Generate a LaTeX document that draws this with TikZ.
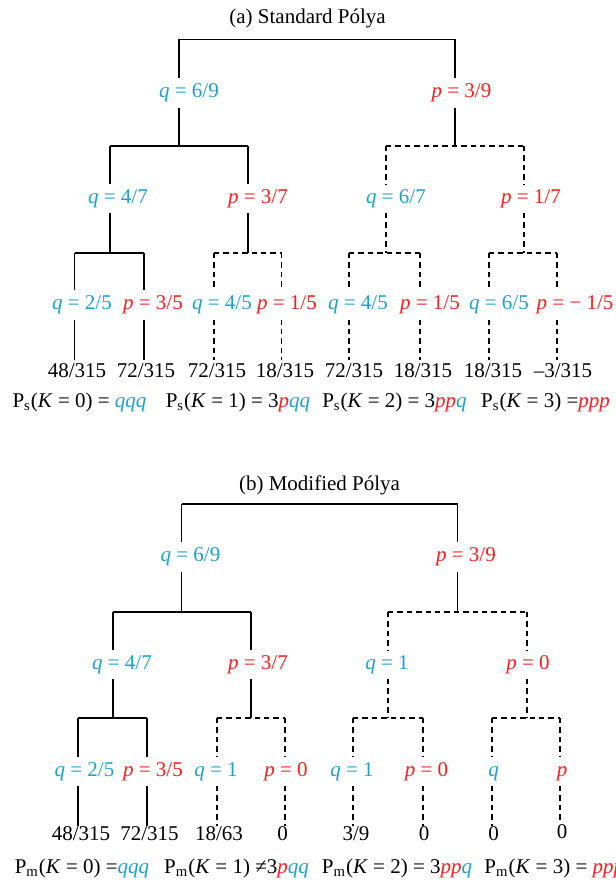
\documentclass[tikz,border=0pt]{standalone}
\usepackage{fontspec}
\setmainfont{Liberation Serif}
\definecolor{qblue}{RGB}{28,160,204}
\definecolor{pred}{RGB}{255,28,28}
\tikzset{
  branch/.style={line width=0.65pt},
  maybe/.style={line width=0.65pt,dash pattern=on 2.7pt off 2pt},
  lab/.style={inner xsep=0pt,inner ysep=2.3pt,text height=7.25pt,text depth=2.3pt},
  qlab/.style={lab,text=qblue},
  plab/.style={lab,text=pred},
  leafa/.style={inner xsep=0pt,inner ysep=1.2pt,text height=7.1pt,text depth=0pt},
  leafb/.style={leafa,inner ysep=0pt},
  total/.style={inner sep=0pt},
  heading/.style={inner sep=0pt},
}
\newcommand{\qc}[1]{\textcolor{qblue}{\textit{#1}}}
\newcommand{\pc}[1]{\textcolor{pred}{\textit{#1}}}
\begin{document}
\begin{tikzpicture}[x=0.5pt,y=-0.5pt,font=\fontsize{10.5pt}{12.6pt}\selectfont]
\useasboundingbox (0,0) rectangle (615,882);

% ---------------- (a) standard urn ----------------
\node[heading] (a-title) at (307.5,18) {(a) Standard Pólya};

% first draw
\coordinate (a-r1) at (179,39.5);
\coordinate (a-r2) at (455,39.5);
\draw[branch] (a-r1) -- (a-r2);
\node[qlab] (a-q) at (189,93) {\textit{q} = 6/9};
\node[plab] (a-p) at (461.5,93) {\textit{p} = 3/9};
\draw[branch] (a-r1) -- (a-r1 |- a-q.north);
\draw[branch] (a-r2) -- (a-r2 |- a-p.north);

% second draw
\coordinate (a-q1) at (110,146); \coordinate (a-q2) at (248,146);
\coordinate (a-p1) at (386,146); \coordinate (a-p2) at (524,146);
\draw[branch] (a-r1 |- a-q.south) -- (a-r1 |- a-q1);
\draw[branch] (a-r2 |- a-p.south) -- (a-r2 |- a-p1);
\draw[branch] (a-q1) -- (a-q2);
\draw[maybe] (a-p1) -- (a-p2);
\node[qlab] (a-qq) at (118,198.5) {\textit{q} = 4/7};
\node[plab] (a-qp) at (258,198.5) {\textit{p} = 3/7};
\node[qlab] (a-pq) at (396,198.5) {\textit{q} = 6/7};
\node[plab] (a-pp) at (531,198.5) {\textit{p} = 1/7};
\draw[branch] (a-q1) -- (a-q1 |- a-qq.north);
\draw[branch] (a-q2) -- (a-q2 |- a-qp.north);
\draw[maybe] (a-p1) -- (a-p1 |- a-pq.north);
\draw[maybe] (a-p2) -- (a-p2 |- a-pp.north);

% third draw
\coordinate (a-qq1) at (74.5,253); \coordinate (a-qq2) at (144,253);
\coordinate (a-qp1) at (214,253);  \coordinate (a-qp2) at (281.5,253);
\coordinate (a-pq1) at (349,253);  \coordinate (a-pq2) at (420,253);
\coordinate (a-pp1) at (489,253);  \coordinate (a-pp2) at (557,253);
\draw[branch] (a-q1 |- a-qq.south) -- (a-q1 |- a-qq1);
\draw[branch] (a-q2 |- a-qp.south) -- (a-q2 |- a-qp1);
\draw[maybe] (a-p1 |- a-pq.south) -- (a-p1 |- a-pq1);
\draw[maybe] (a-p2 |- a-pp.south) -- (a-p2 |- a-pp1);
\draw[branch] (a-qq1) -- (a-qq2);
\draw[maybe] (a-qp1) -- (a-qp2);
\draw[maybe] (a-pq1) -- (a-pq2);
\draw[maybe] (a-pp1) -- (a-pp2);
\node[qlab] (a-qqq) at (82,305)  {\textit{q} = 2/5};
\node[plab] (a-qqp) at (153,305) {\textit{p} = 3/5};
\node[qlab] (a-qpq) at (222,305) {\textit{q} = 4/5};
\node[plab] (a-qpp) at (287,305) {\textit{p} = 1/5};
\node[qlab] (a-pqq) at (358,305) {\textit{q} = 4/5};
\node[plab] (a-pqp) at (430,305) {\textit{p} = 1/5};
\node[qlab] (a-ppq) at (499,305) {\textit{q} = 6/5};
\node[plab] (a-ppp) at (575,305) {\textit{p} = − 1/5};
\draw[branch] (a-qq1) -- (a-qq1 |- a-qqq.north);
\draw[branch] (a-qq2) -- (a-qq2 |- a-qqp.north);
\draw[maybe] (a-qp1) -- (a-qp1 |- a-qpq.north);
\draw[maybe] (a-qp2) -- (a-qp2 |- a-qpp.north);
\draw[maybe] (a-pq1) -- (a-pq1 |- a-pqq.north);
\draw[maybe] (a-pq2) -- (a-pq2 |- a-pqp.north);
\draw[maybe] (a-pp1) -- (a-pp1 |- a-ppq.north);
\draw[maybe] (a-pp2) -- (a-pp2 |- a-ppp.north);

% outcome probabilities
\node[leafa] (a-l1) at (77,370)  {48/315};
\node[leafa] (a-l2) at (146,370) {72/315};
\node[leafa] (a-l3) at (217,370) {72/315};
\node[leafa] (a-l4) at (285,370) {18/315};
\node[leafa] (a-l5) at (354,370) {72/315};
\node[leafa] (a-l6) at (423,370) {18/315};
\node[leafa] (a-l7) at (493,370) {18/315};
\node[leafa] (a-l8) at (563,370) {–3/315};
\draw[branch] (a-qq1 |- a-qqq.south) -- (a-qq1 |- a-l1.north);
\draw[branch] (a-qq2 |- a-qqp.south) -- (a-qq2 |- a-l2.north);
\draw[maybe] (a-qp1 |- a-qpq.south) -- (a-qp1 |- a-l3.north);
\draw[maybe] (a-qp2 |- a-qpp.south) -- (a-qp2 |- a-l4.north);
\draw[maybe] (a-pq1 |- a-pqq.south) -- (a-pq1 |- a-l5.north);
\draw[maybe] (a-pq2 |- a-pqp.south) -- (a-pq2 |- a-l6.north);
\draw[maybe] (a-pp1 |- a-ppq.south) -- (a-pp1 |- a-l7.north);
\draw[maybe] (a-pp2 |- a-ppp.south) -- (a-pp2 |- a-l8.north);

\node[total] (a-k0) at (79.5,402)  {P\textsubscript{s}(\textit{K} = 0) = \qc{qqq}};
\node[total] (a-k1) at (238,402)   {P\textsubscript{s}(\textit{K} = 1) = 3\pc{p}\qc{qq}};
\node[total] (a-k2) at (394.5,402) {P\textsubscript{s}(\textit{K} = 2) = 3\pc{pp}\qc{q}};
\node[total] (a-k3) at (545.5,402) {P\textsubscript{s}(\textit{K} = 3) =\pc{ppp}};

% ---------------- (b) modified urn ----------------
\node[heading] (b-title) at (319.5,485) {(b) Modified Pólya};

% first draw
\coordinate (b-r1) at (181.5,504);
\coordinate (b-r2) at (457.5,504);
\draw[branch] (b-r1) -- (b-r2);
\node[qlab] (b-q) at (190.5,557) {\textit{q} = 6/9};
\node[plab] (b-p) at (466,557) {\textit{p} = 3/9};
\draw[branch] (b-r1) -- (b-r1 |- b-q.north);
\draw[branch] (b-r2) -- (b-r2 |- b-p.north);

% second draw
\coordinate (b-q1) at (113,612); \coordinate (b-q2) at (251,612);
\coordinate (b-p1) at (388,612); \coordinate (b-p2) at (527,612);
\draw[branch] (b-r1 |- b-q.south) -- (b-r1 |- b-q1);
\draw[branch] (b-r2 |- b-p.south) -- (b-r2 |- b-p1);
\draw[branch] (b-q1) -- (b-q2);
\draw[maybe] (b-p1) -- (b-p2);
\node[qlab] (b-qq) at (122,664.5) {\textit{q} = 4/7};
\node[plab] (b-qp) at (258,664.5) {\textit{p} = 3/7};
\node[qlab] (b-pq) at (387,664.5) {\textit{q} = 1};
\node[plab] (b-pp) at (528,664.5) {\textit{p} = 0};
\draw[branch] (b-q1) -- (b-q1 |- b-qq.north);
\draw[branch] (b-q2) -- (b-q2 |- b-qp.north);
\draw[maybe] (b-p1) -- (b-p1 |- b-pq.north);
\draw[maybe] (b-p2) -- (b-p2 |- b-pp.north);

% third draw
\coordinate (b-qq1) at (78,718);  \coordinate (b-qq2) at (147,718);
\coordinate (b-qp1) at (217,718); \coordinate (b-qp2) at (285,718);
\coordinate (b-pq1) at (353,718); \coordinate (b-pq2) at (423,718);
\coordinate (b-pp1) at (492,718); \coordinate (b-pp2) at (560,718);
\draw[branch] (b-q1 |- b-qq.south) -- (b-q1 |- b-qq1);
\draw[branch] (b-q2 |- b-qp.south) -- (b-q2 |- b-qp1);
\draw[maybe] (b-p1 |- b-pq.south) -- (b-p1 |- b-pq1);
\draw[maybe] (b-p2 |- b-pp.south) -- (b-p2 |- b-pp1);
\draw[branch] (b-qq1) -- (b-qq2);
\draw[maybe] (b-qp1) -- (b-qp2);
\draw[maybe] (b-pq1) -- (b-pq2);
\draw[maybe] (b-pp1) -- (b-pp2);
\node[qlab] (b-qqq) at (84.5,771.5)  {\textit{q} = 2/5};
\node[plab] (b-qqp) at (153,771.5)   {\textit{p} = 3/5};
\node[qlab] (b-qpq) at (216,771.5)   {\textit{q} = 1};
\node[plab] (b-qpp) at (286,771.5)   {\textit{p} = 0};
\node[qlab] (b-pqq) at (352,771.5)   {\textit{q} = 1};
\node[plab] (b-pqp) at (426.5,771.5) {\textit{p} = 0};
\node[qlab] (b-ppq) at (493.5,771.5) {\textit{q}};
\node[plab] (b-ppp) at (562,771.5)   {\textit{p}};
\draw[branch] (b-qq1) -- (b-qq1 |- b-qqq.north);
\draw[branch] (b-qq2) -- (b-qq2 |- b-qqp.north);
\draw[maybe] (b-qp1) -- (b-qp1 |- b-qpq.north);
\draw[maybe] (b-qp2) -- (b-qp2 |- b-qpp.north);
\draw[maybe] (b-pq1) -- (b-pq1 |- b-pqq.north);
\draw[maybe] (b-pq2) -- (b-pq2 |- b-pqp.north);
\draw[maybe] (b-pp1) -- (b-pp1 |- b-ppq.north);
\draw[maybe] (b-pp2) -- (b-pp2 |- b-ppp.north);

% outcome probabilities
\node[leafb] (b-l1) at (81,833)    {48/315};
\node[leafb] (b-l2) at (149.5,833) {72/315};
\node[leafb] (b-l3) at (219,833)   {18/63};
\node[leafb] (b-l4) at (282.5,833) {0};
\node[leafb] (b-l5) at (356,833)   {3/9};
\node[leafb] (b-l6) at (424,833)   {0};
\node[leafb] (b-l7) at (493.5,833) {0};
\node[leafb] (b-l8) at (562,831)   {0};
\draw[branch] (b-qq1 |- b-qqq.south) -- (b-qq1 |- b-l1.north);
\draw[branch] (b-qq2 |- b-qqp.south) -- (b-qq2 |- b-l2.north);
\draw[maybe] (b-qp1 |- b-qpq.south) -- (b-qp1 |- b-l3.north);
\draw[maybe] (b-qp2 |- b-qpp.south) -- (b-qp2 |- b-l4.north);
\draw[maybe] (b-pq1 |- b-pqq.south) -- (b-pq1 |- b-l5.north);
\draw[maybe] (b-pq2 |- b-pqp.south) -- (b-pq2 |- b-l6.north);
\draw[maybe] (b-pp1 |- b-ppq.south) -- (b-pp1 |- b-l7.north);
\draw[maybe] (b-pp2 |- b-ppp.south) -- (b-pp2 |- b-l8.north);

\node[total] (b-k0) at (82,868)  {P\textsubscript{m}(\textit{K} = 0) =\qc{qqq}};
\node[total] (b-k1) at (236.5,868) {P\textsubscript{m}(\textit{K} = 1) ≠3\pc{p}\qc{qq}};
\node[total] (b-k2) at (397,868) {P\textsubscript{m}(\textit{K} = 2) = 3\pc{pp}\qc{q}};
\node[total,anchor=west] (b-k3) at (484,868) {P\textsubscript{m}(\textit{K} = 3) = \pc{ppp}};
\end{tikzpicture}
\end{document}
